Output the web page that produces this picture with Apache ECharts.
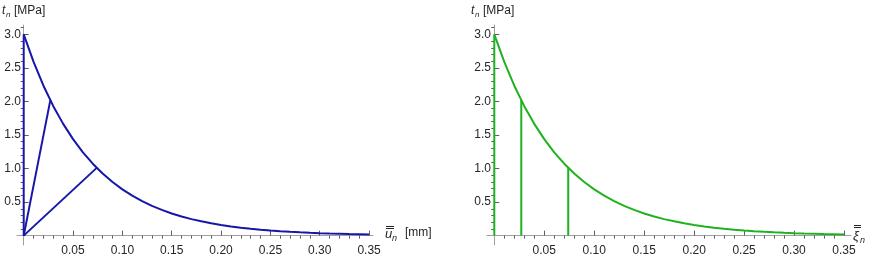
<!DOCTYPE html>
<html><head><meta charset="utf-8">
<script src="https://cdn.jsdelivr.net/npm/echarts@6/dist/echarts.min.js"></script>
<style>html,body{margin:0;padding:0;background:#fff}#c{width:872px;height:260px}</style>
</head><body><div id="c"></div>
<script>
// opening displacement (mm) / xi samples
const uValues = [0.00,0.01,0.02,0.03,0.04,0.05,0.06,0.07,0.08,0.09,0.10,0.11,0.12,0.13,0.14,0.15,0.16,0.17,0.18,0.19,0.20,0.21,0.22,0.23,0.24,0.25,0.26,0.27,0.28,0.29,0.30,0.31,0.32,0.33,0.34,0.35];
// traction t_n (MPa)
const tValues = [3.000,2.590,2.235,1.930,1.666,1.438,1.241,1.072,0.925,0.799,0.689,0.595,0.514,0.443,0.383,0.330,0.285,0.246,0.213,0.184,0.158,0.137,0.118,0.102,0.088,0.076,0.066,0.057,0.049,0.042,0.036,0.031,0.027,0.023,0.020,0.017];
const peakT = 3.0;
const unloadU = [0.027, 0.074];
const unloadT = [2.02, 1.01];
const xTickLabels = [0.05,0.10,0.15,0.20,0.25,0.30,0.35];
const yTickLabels = [0.5,1.0,1.5,2.0,2.5,3.0];
const yTitle = ['t', 'n', '[MPa]'];
const xTitleLeft = ['u', 'n', '[mm]'];
const xTitleRight = ['\u03BE', 'n', ''];

const xMinor = []; for (let i = 1; i <= 34; i++) if (i % 5) xMinor.push(i / 100);
const yMinor = []; for (let i = 1; i <= 31; i++) if (i % 5) yMinor.push(i / 10);

const AX = '#a0a0a0', TXT = '#262626', FONT = 'Liberation Sans';
const TK = '#5e5e5e';
const BLUE = '#1616a8', GREEN = '#1fb21f';

function xAxes(grid, min, max) {
  return [
    { type:'value', gridIndex:grid, min:min, max:max,
      axisLine:{show:true, onZero:true, lineStyle:{color:AX, width:1}},
      axisTick:{show:true, inside:true, length:5, lineStyle:{color:TK, width:1}, customValues:xTickLabels},
      axisLabel:{show:true, margin:0, color:TXT, fontSize:12, fontFamily:FONT, customValues:xTickLabels, formatter:v=>v.toFixed(2)},
      splitLine:{show:false} },
    { type:'value', gridIndex:grid, min:min, max:max,
      axisLine:{show:false, onZero:true},
      axisTick:{show:true, inside:true, length:3, lineStyle:{color:TK, width:1}, customValues:xMinor},
      axisLabel:{show:false}, splitLine:{show:false} }
  ];
}
function yAxes(grid) {
  return [
    { type:'value', gridIndex:grid, min:-0.14, max:3.14,
      axisLine:{show:true, onZero:true, lineStyle:{color:AX, width:1}},
      axisTick:{show:true, inside:true, length:5, lineStyle:{color:TK, width:1}, customValues:yTickLabels},
      axisLabel:{show:true, margin:-4, color:TXT, fontSize:12, fontFamily:FONT, customValues:yTickLabels, formatter:v=>v.toFixed(1)},
      splitLine:{show:false} },
    { type:'value', gridIndex:grid, min:-0.14, max:3.14,
      axisLine:{show:false, onZero:true},
      axisTick:{show:true, inside:true, length:3, lineStyle:{color:TK, width:1}, customValues:yMinor},
      axisLabel:{show:false}, splitLine:{show:false} }
  ];
}

const curve = uValues.map((u,i)=>[u, tValues[i]]);
const seg = (xi, yi, data, color) => ({ type:'line', xAxisIndex:xi, yAxisIndex:yi, data:data, symbol:'none',
  lineStyle:{color:color, width:2}, itemStyle:{color:color}, silent:true });

function txt(x, y, s, size, italic) {
  return { type:'text', x:x, y:y, style:{ text:s, fill:TXT, font:(italic?'italic ':'') + size + 'px "' + FONT + '"', verticalAlign:'middle', align:'left' } };
}
function bar(x1, x2, y) {
  return { type:'line', shape:{x1:x1, y1:y, x2:x2, y2:y}, style:{stroke:TXT, lineWidth:1} };
}
const graphics = [
  txt(2, 11, yTitle[0], 12, true), txt(6, 15, yTitle[1], 8, true), txt(14, 11, yTitle[2], 12, false),
  txt(471, 11, yTitle[0], 12, true), txt(475, 15, yTitle[1], 8, true), txt(483, 11, yTitle[2], 12, false),
  txt(385, 234, xTitleLeft[0], 13, true), txt(392, 238, xTitleLeft[1], 9, true), txt(405, 233, xTitleLeft[2], 12, false),
  bar(386, 394, 226.5), bar(386, 394, 228.5),
  txt(853, 236, xTitleRight[0], 13, true), txt(860, 240, xTitleRight[1], 9, true),
  bar(854, 861, 225.5), bar(854, 861, 227.5)
];

const chart = echarts.init(document.getElementById('c'), null, {renderer:'canvas'});
chart.setOption({
  animation:false,
  grid:[{left:17, top:25, width:356, height:220, outerBoundsMode:'none', containLabel:false},
        {left:487, top:25, width:364, height:220, outerBoundsMode:'none', containLabel:false}],
  xAxis: xAxes(0, -0.0068, 0.354).concat(xAxes(1, -0.0073, 0.357)),
  yAxis: yAxes(0).concat(yAxes(1)),
  graphic: graphics,
  series:[
    seg(0,0,[[0,0],[0,peakT]],BLUE),
    seg(0,0,curve,BLUE),
    seg(0,0,[[0,0],[unloadU[0],unloadT[0]]],BLUE),
    seg(0,0,[[0,0],[unloadU[1],unloadT[1]]],BLUE),
    seg(2,2,[[0,0],[0,peakT]],GREEN),
    seg(2,2,curve,GREEN),
    seg(2,2,[[unloadU[0],0],[unloadU[0],unloadT[0]]],GREEN),
    seg(2,2,[[unloadU[1],0],[unloadU[1],unloadT[1]]],GREEN)
  ]
});
</script></body></html>
